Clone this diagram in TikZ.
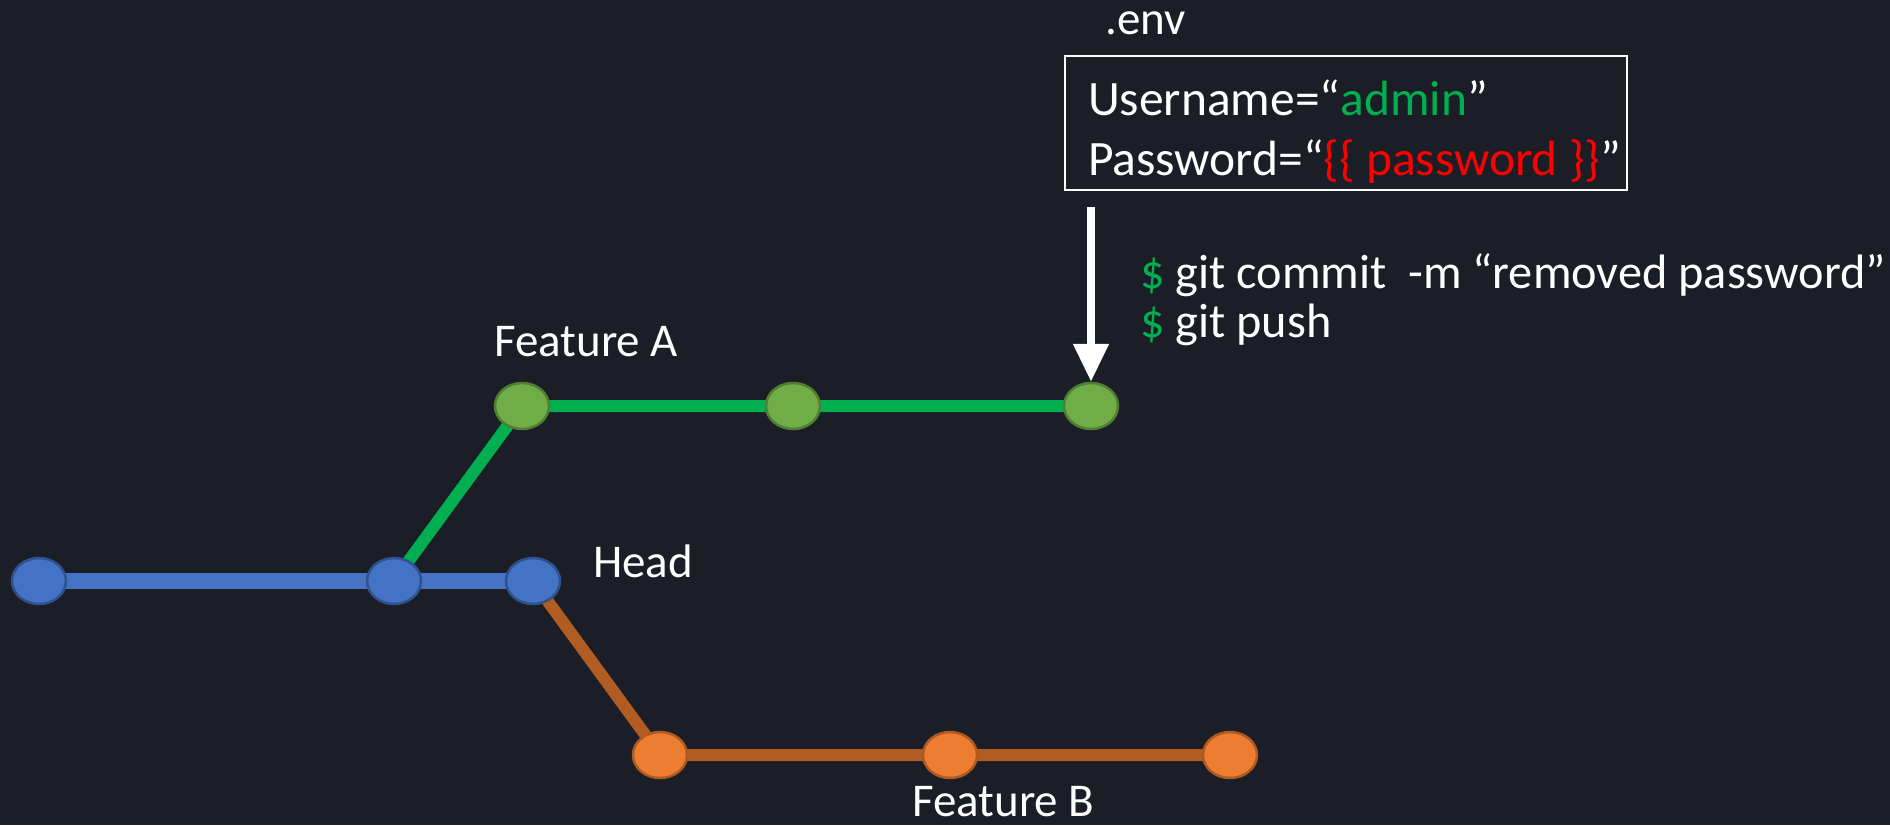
\documentclass[tikz,border=0pt]{standalone}
\usepackage{fontspec}
\setmainfont{Carlito}
\usetikzlibrary{arrows.meta,shapes.geometric}
\definecolor{bgc}{HTML}{1B1E26}
\definecolor{gline}{HTML}{00B050}
\definecolor{gfill}{HTML}{70AD47}
\definecolor{gdraw}{HTML}{507E32}
\definecolor{bfill}{HTML}{4472C4}
\definecolor{bdraw}{HTML}{2F528F}
\definecolor{ofill}{HTML}{ED7D31}
\definecolor{oline}{HTML}{B05C22}
\definecolor{odraw}{HTML}{AE5A21}
\definecolor{txtred}{HTML}{FF0000}
\pgfdeclarelayer{bg}
\pgfsetlayers{bg,main}
\begin{document}
\begin{tikzpicture}[x=1pt,y=-1pt,
  commit/.style={ellipse,minimum width=54pt,minimum height=46pt,inner sep=0pt,line width=2.5pt},
  bnode/.style={commit,fill=bfill,draw=bdraw},
  gnode/.style={commit,fill=gfill,draw=gdraw},
  onode/.style={commit,fill=ofill,draw=odraw},
  lbl/.style={text=white,inner sep=0pt,anchor=base west,font=\fontsize{47}{57}\selectfont},
  big/.style={lbl,font=\fontsize{49.5}{60}\selectfont},
  cmd/.style={lbl,font=\fontsize{48.3}{58}\selectfont},
  bline/.style={draw=bfill,line width=16.5pt},
  gline/.style={draw=gline,line width=12pt},
  oline/.style={draw=oline,line width=12pt},
  bigarrow/.style={draw=white,line width=8pt,-{Triangle[width=34pt,length=38pt]}}
]
\useasboundingbox (0,0) rectangle (1890,825);
\begin{pgfonlayer}{bg}
\fill[bgc] (0,0) rectangle (1890,825);
\end{pgfonlayer}
% commits
\node[bnode] (b1) at (39,581) {};
\node[bnode] (b2) at (394,581) {};
\node[bnode] (b3) at (533,581) {};
\node[gnode] (g1) at (522,406) {};
\node[gnode] (g2) at (793,406) {};
\node[gnode] (g3) at (1091,406) {};
\node[onode] (o1) at (660,755) {};
\node[onode] (o2) at (950,755) {};
\node[onode] (o3) at (1230,755) {};
\begin{pgfonlayer}{bg}
\draw[bline] (b1.center) -- (b3.center);
\draw[gline] (b2.center) -- (g1.center) -- (g3.center);
\draw[oline] (b3.center) -- (o1.center) -- (o3.center);
\end{pgfonlayer}
% labels
\node[lbl] (fa) at (494,356) {Feature A};
\node[lbl] (hd) at (593,577) {Head};
\node[lbl] (fb) at (912,816) {Feature B};
\node[lbl] (env) at (1105,34) {.env};
\node[draw=white,line width=2pt,minimum width=562pt,minimum height=134pt,anchor=north west,inner sep=0pt] (box) at (1064,55) {};
\node[big] (u) at (1088,115) {Username=“\textcolor{gline}{admin}”};
\node[big] (p) at (1088,175) {Password=“\textcolor{txtred}{\{\{ password \}\}}”};
\node[cmd] (c1) at (1140,288) {\textcolor{gline}{\$} git commit \ -m “removed password”};
\node[cmd] (c2) at (1140,337) {\textcolor{gline}{\$} git push};
\coordinate (atop) at (1091,207);
\draw[bigarrow] (atop) -- (g3.north);
\end{tikzpicture}
\end{document}
